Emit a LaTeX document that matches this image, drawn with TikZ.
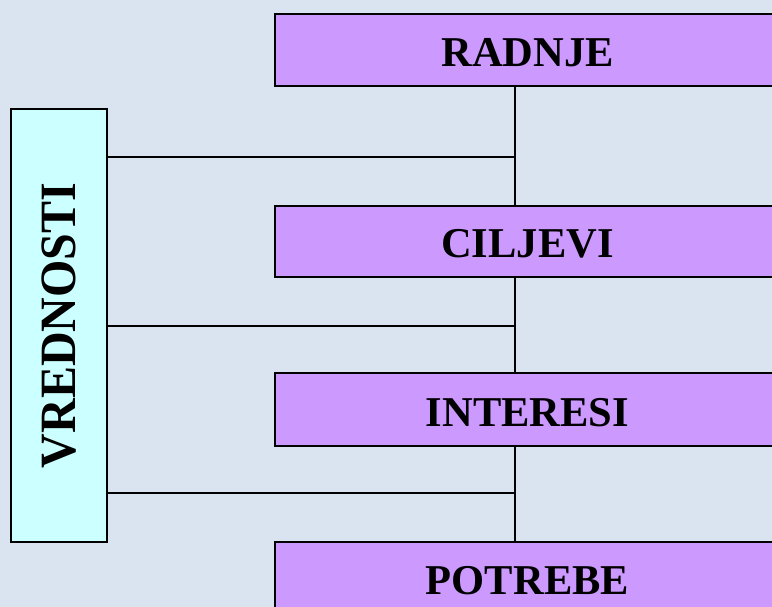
\documentclass[tikz,border=0pt]{standalone}
\usepackage{fontspec}
\setmainfont{Liberation Serif}
\definecolor{bgc}{HTML}{DAE3F0}
\definecolor{lilac}{HTML}{CC99FF}
\definecolor{paleaqua}{HTML}{CCFFFF}
\tikzset{
  levelbox/.style={draw=black, line width=1.6pt, fill=lilac, minimum width=505pt, inner sep=0pt,
    font=\fontsize{42.5}{48}\selectfont\bfseries, text height=33pt, text depth=0pt},
  valuebox/.style={draw=black, line width=1.6pt, fill=paleaqua, minimum width=96pt, minimum height=433pt, inner sep=0pt,
    font=\fontsize{48}{54}\selectfont\bfseries},
  link/.style={draw=black, line width=1.4pt}
}
\begin{document}
\begin{tikzpicture}[x=1pt,y=-1pt]
\useasboundingbox (0,0) rectangle (772,607);
\clip (0,0) rectangle (772,607);
\fill[bgc] (0,0) rectangle (772,607);
\node[levelbox, minimum height=72pt] (radnje) at (527.5,50) {RADNJE};
\node[levelbox, minimum height=71pt] (ciljevi) at (527.5,241.5) {CILJEVI};
\node[levelbox, minimum height=73pt] (interesi) at (527.5,409.5) {INTERESI};
\node[levelbox, minimum height=72pt] (potrebe) at (527.5,578) {POTREBE};
\node[valuebox] (vred) at (59,325.5) {\rotatebox{90}{\scalebox{1}[1.06]{VREDNOSTI}}};
\coordinate (h1) at (515,157);
\coordinate (h2) at (515,326);
\coordinate (h3) at (515,493);
\draw[link] (radnje.south -| h1) -- (ciljevi.north -| h1);
\draw[link] (ciljevi.south -| h1) -- (interesi.north -| h1);
\draw[link] (interesi.south -| h1) -- (potrebe.north -| h1);
\draw[link] (h1 -| vred.east) -- (h1);
\draw[link] (h2 -| vred.east) -- (h2);
\draw[link] (h3 -| vred.east) -- (h3);
\end{tikzpicture}
\end{document}
